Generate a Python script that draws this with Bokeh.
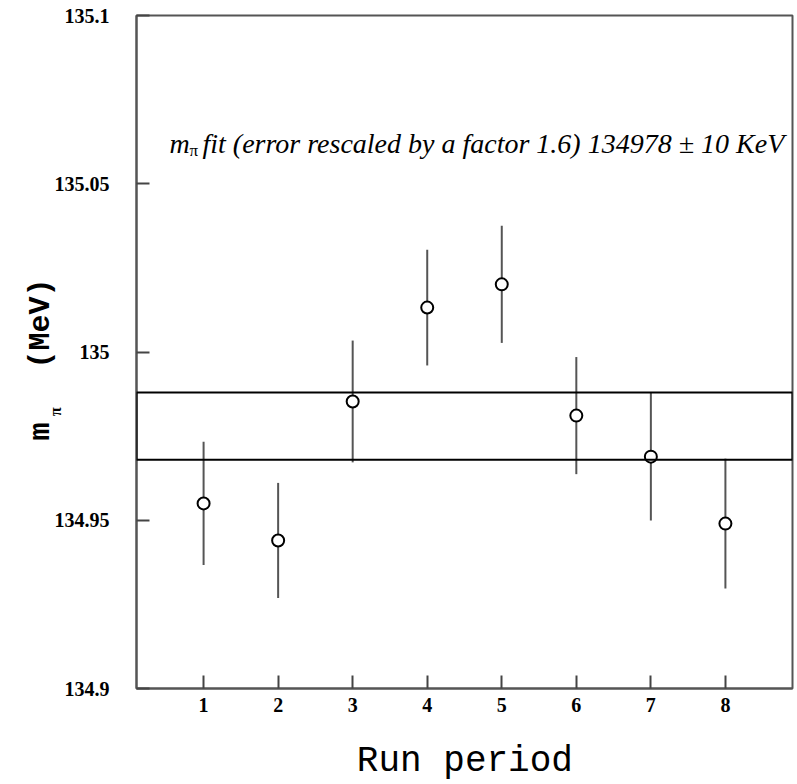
from bokeh.plotting import figure
from bokeh.models import BoxAnnotation, Label, FixedTicker
from bokeh.embed import file_html
from bokeh.resources import INLINE
import math

# ---- data ----
run_period = [1, 2, 3, 4, 5, 6, 7, 8]
mass_mev = [134.9550, 134.9440, 134.9853, 135.0132, 135.0201, 134.9811, 134.9689, 134.9490]
mass_err = [0.0183, 0.0171, 0.0181, 0.0172, 0.0174, 0.0174, 0.0190, 0.0193]
fit_value = 134.978
fit_error = 0.010
x_ticks = [1, 2, 3, 4, 5, 6, 7, 8]
y_ticks = [134.9, 134.95, 135.0, 135.05, 135.1]
y_tick_labels = ["134.9", "134.95", "135", "135.05", "135.1"]

lower = [m - e for m, e in zip(mass_mev, mass_err)]
upper = [m + e for m, e in zip(mass_mev, mass_err)]

p = figure(width=797, height=784, x_range=(0.1, 8.9), y_range=(134.9, 135.1),
           output_backend="svg", toolbar_location=None,
           min_border_left=135, min_border_right=5, min_border_top=15, min_border_bottom=96)
p.xgrid.visible = False
p.ygrid.visible = False
p.outline_line_color = "#555555"
p.outline_line_width = 2
p.background_fill_color = "white"
p.border_fill_color = "white"

for ax in (p.xaxis, p.yaxis):
    ax.axis_line_color = "#555555"
    ax.axis_line_width = 2
    ax.major_tick_line_color = "#444444"
    ax.major_tick_line_width = 2
    ax.major_tick_out = 0
    ax.minor_tick_line_color = None
    ax.major_label_text_font = "Liberation Serif"
    ax.major_label_text_font_style = "bold"
    ax.major_label_text_font_size = "20px"
    ax.major_label_text_color = "black"

p.xaxis.ticker = FixedTicker(ticks=x_ticks)
p.xaxis.major_tick_in = 13
p.xaxis.major_label_standoff = 9
p.yaxis.ticker = FixedTicker(ticks=y_ticks)
p.yaxis.major_label_overrides = {t: l for t, l in zip(y_ticks, y_tick_labels)}
p.yaxis.major_tick_in = 13
p.yaxis.major_label_standoff = 27

# fit band
band = BoxAnnotation(bottom=fit_value - fit_error, top=fit_value + fit_error,
                     fill_alpha=0, line_color="black", line_alpha=1.0, line_width=2)
p.add_layout(band)

# error bars and points
p.segment(x0=run_period, y0=lower, x1=run_period, y1=upper,
          line_color="#555555", line_width=2)
p.scatter(x=run_period, y=mass_mev, marker="circle", size=12,
          fill_color="white", line_color="black", line_width=2)

def sx(px):
    return 0.1 + (px - 135) / 74.57

def sy(py):
    return 135.1 - (py - 15) / 3365.0

# annotation text inside the frame
p.add_layout(Label(x=sx(168), y=sy(143), text="m", text_font="Liberation Serif",
                   text_font_style="italic", text_font_size="28px", text_color="black",
                   text_baseline="middle", text_align="left"))
p.add_layout(Label(x=sx(188), y=sy(150), text="π", text_font="Liberation Serif",
                   text_font_size="17px", text_color="black",
                   text_baseline="middle", text_align="left"))
p.add_layout(Label(x=sx(201), y=sy(143),
                   text="fit (error rescaled by a factor 1.6) 134978 ± 10 KeV",
                   text_font="Liberation Serif", text_font_style="italic", text_color="black",
                   text_font_size="28px", text_baseline="middle", text_align="left"))

# axis labels (placed in side panels so they are not clipped by the frame)
p.add_layout(Label(x=sx(463.5), y=sy(761), text="Run period", text_font="Liberation Mono",
                   text_font_size="36px", text_color="black",
                   text_baseline="middle", text_align="center"), "below")
p.add_layout(Label(x=sx(39), y=sy(359), text="m\u00a0\u00a0\u00a0(MeV)",
                   text_font="Liberation Mono", text_color="black",
                   text_font_style="bold", text_font_size="30px", angle=math.pi / 2,
                   text_baseline="middle", text_align="center"), "left")
p.add_layout(Label(x=sx(54), y=sy(411), text="π", text_font="Liberation Serif",
                   text_font_style="bold", text_font_size="16px", text_color="black",
                   angle=math.pi / 2, text_baseline="middle", text_align="center"), "left")

open("out.html", "w").write(file_html(p, INLINE))
